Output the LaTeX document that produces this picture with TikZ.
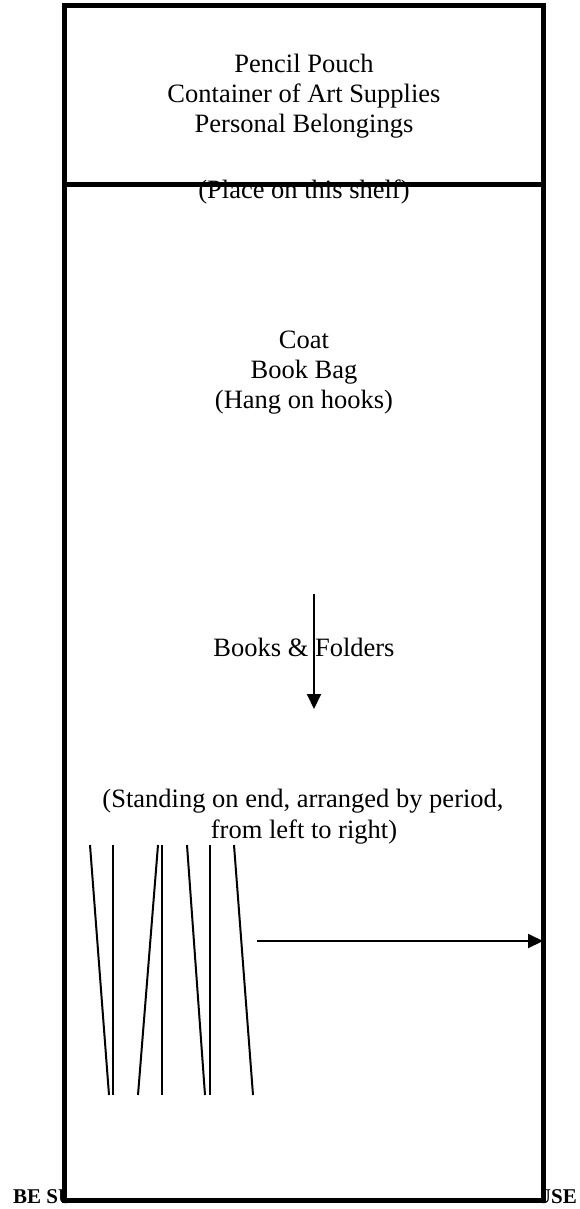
\documentclass[tikz,border=0pt]{standalone}
\usepackage{fontspec}
\setmainfont{Liberation Serif}
\usetikzlibrary{arrows.meta}
\tikzset{
  lbl/.style={anchor=base, inner sep=0pt, font=\fontsize{26.5}{30.5}\selectfont},
  note/.style={inner sep=0pt, font=\fontsize{21}{24}\selectfont\bfseries},
  frame/.style={line width=5pt, fill=white},
  shelf/.style={line width=5pt},
  book/.style={line width=2pt},
  arr/.style={line width=2pt, -{Triangle[length=15pt,width=14pt]}}
}
\begin{document}
\begin{tikzpicture}[x=1pt,y=-1pt]
\useasboundingbox (0,0) rectangle (579,1209);
% partially hidden bottom note
\node[note, anchor=base west] (noteL) at (13,1203) {BE SU};
\node[note, anchor=base east] (noteR) at (577,1203) {USE};
% frame
\draw[frame] (64,6) rectangle (543,1200);
\coordinate (shelfL) at (64,184.5);
\coordinate (shelfR) at (543,184.5);
\draw[shelf] (shelfL) -- (shelfR);
% top shelf text
\node[lbl] (t1) at (304,73) {Pencil Pouch};
\node[lbl] (t2) at (304,103) {Container of Art Supplies};
\node[lbl] (t3) at (304,133) {Personal Belongings};
\node[lbl] (t4) at (304,198) {(Place on this shelf)};
% hooks
\node[lbl] (h1) at (304,348) {Coat};
\node[lbl] (h2) at (304,378) {Book Bag};
\node[lbl] (h3) at (304,408) {(Hang on hooks)};
% books
\node[lbl] (b1) at (304,656) {Books \& Folders};
\coordinate (vA) at (314,594);
\coordinate (vB) at (314,709);
\draw[arr] (vA) -- (vB);
\node[lbl] (s1) at (303,807) {(Standing on end, arranged by period,};
\node[lbl] (s2) at (304,838) {from left to right)};
% book spines
\draw[book] (90,845) -- (109,1095);
\draw[book] (113,845) -- (113,1095);
\draw[book] (158,845) -- (138,1095);
\draw[book] (162,845) -- (162,1095);
\draw[book] (187,845) -- (205,1095);
\draw[book] (210,845) -- (210,1095);
\draw[book] (234,845) -- (253,1095);
\coordinate (hA) at (257,941);
\coordinate (hB) at (543,941);
\draw[arr] (hA) -- (hB);
\end{tikzpicture}
\end{document}
